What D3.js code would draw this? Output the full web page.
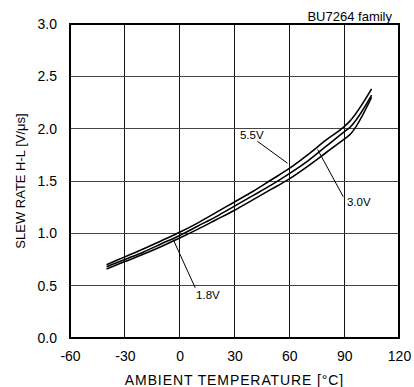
<!DOCTYPE html>
<html>
<head>
<meta charset="utf-8">
<script src="https://cdn.jsdelivr.net/npm/d3@7"></script>
<style>
  html, body { margin: 0; padding: 0; background: #fff; }
  svg { display: block; font-family: "Liberation Sans", Arial, sans-serif; }
</style>
</head>
<body>
<svg id="chart" width="414" height="387"></svg>
<script>
// Ambient temperature sample points [°C]
const temps = [-40, -30, -20, -10, 0, 10, 20, 30, 40, 50, 60, 70, 80, 90, 93, 105];
// Slew rate H-L [V/µs] per supply voltage
const slew55 = [0.70, 0.775, 0.85, 0.93, 1.01, 1.10, 1.20, 1.30, 1.40, 1.51, 1.62, 1.75, 1.89, 2.02, 2.07, 2.38];
const slew30 = [0.68, 0.75, 0.82, 0.90, 0.98, 1.07, 1.16, 1.26, 1.36, 1.46, 1.57, 1.69, 1.83, 1.97, 2.01, 2.32];
const slew18 = [0.66, 0.73, 0.80, 0.875, 0.955, 1.04, 1.13, 1.22, 1.32, 1.42, 1.52, 1.64, 1.77, 1.90, 1.94, 2.30];
const seriesNames = ["5.5V", "3.0V", "1.8V"];
const xTicks = [-60, -30, 0, 30, 60, 90, 120];
const yTicks = ["0.0", "0.5", "1.0", "1.5", "2.0", "2.5", "3.0"];
// Callouts: label anchor and leader line ends, in data units
const callouts = [
  { name: "5.5V", tx: 33, ty: 1.94, x1: 42.5, y1: 1.88, x2: 59, y2: 1.67 },
  { name: "3.0V", tx: 91.5, ty: 1.30, x1: 75.5, y1: 1.80, x2: 89.5, y2: 1.35 },
  { name: "1.8V", tx: 9, ty: 0.41, x1: -3.5, y1: 0.94, x2: 8.5, y2: 0.48 }
];

const svg = d3.select("#chart");
const W = 414, H = 387;
const m = { left: 70, top: 24, right: 15, bottom: 49 };
const pw = W - m.left - m.right, ph = H - m.top - m.bottom;
const FONT = "Liberation Sans, Arial, sans-serif";

const x = d3.scaleLinear().domain([-60, 120]).range([m.left, m.left + pw]);
const y = d3.scaleLinear().domain([0, 3]).range([m.top + ph, m.top]);
const yVals = yTicks.map(Number);

// grid
const g = svg.append("g");
g.selectAll("line.vg").data(xTicks.slice(1, -1)).join("line")
  .attr("x1", d => x(d)).attr("x2", d => x(d))
  .attr("y1", y(0)).attr("y2", y(3))
  .attr("stroke", "#111").attr("stroke-width", 1).attr("shape-rendering", "crispEdges");
g.selectAll("line.hg").data(yVals.slice(1, -1)).join("line")
  .attr("x1", x(-60)).attr("x2", x(120))
  .attr("y1", d => y(d)).attr("y2", d => y(d))
  .attr("stroke", "#444").attr("stroke-width", 1).attr("shape-rendering", "crispEdges");

// frame
svg.append("rect")
  .attr("x", x(-60)).attr("y", y(3))
  .attr("width", x(120) - x(-60)).attr("height", y(0) - y(3))
  .attr("fill", "none").attr("stroke", "#000").attr("stroke-width", 2);

// axes tick labels
const xAxis = d3.axisBottom(x).tickValues(xTicks).tickSize(0).tickPadding(13).tickFormat(d => String(d));
svg.append("g").attr("transform", `translate(0,${y(0)})`).call(xAxis)
  .call(s => s.select(".domain").remove())
  .selectAll("text").attr("font-size", 14).attr("fill", "#000").attr("font-family", FONT);

const yAxis = d3.axisLeft(y).tickValues(yVals).tickSize(0).tickPadding(13).tickFormat((d, i) => yTicks[i]);
svg.append("g").attr("transform", `translate(${x(-60)},0)`).call(yAxis)
  .call(s => s.select(".domain").remove())
  .selectAll("text").attr("font-size", 14).attr("fill", "#000").attr("font-family", FONT);

// curves
const line = d3.line().x(d => x(d[0])).y(d => y(d[1])).curve(d3.curveMonotoneX);
[slew55, slew30, slew18].forEach(vals => {
  svg.append("path")
    .datum(temps.map((t, i) => [t, vals[i]]))
    .attr("d", line)
    .attr("fill", "none").attr("stroke", "#000").attr("stroke-width", 1.6);
});

// callouts
callouts.forEach(c => {
  svg.append("line")
    .attr("x1", x(c.x1)).attr("y1", y(c.y1)).attr("x2", x(c.x2)).attr("y2", y(c.y2))
    .attr("stroke", "#000").attr("stroke-width", 1);
  svg.append("text")
    .attr("x", x(c.tx)).attr("y", y(c.ty))
    .attr("dy", "0.35em")
    .attr("font-size", 11.5).attr("fill", "#000")
    .text(c.name);
});

// family label
svg.append("text")
  .attr("x", x(120) - 7).attr("y", y(3) - 3)
  .attr("text-anchor", "end").attr("font-size", 13).attr("fill", "#000")
  .text("BU7264 family");

// axis titles
svg.append("text")
  .attr("x", (x(-60) + x(120)) / 2).attr("y", 385)
  .attr("text-anchor", "middle").attr("font-size", 14).attr("letter-spacing", 0.9).attr("fill", "#000")
  .text("AMBIENT TEMPERATURE [°C]");

svg.append("text")
  .attr("transform", `translate(25,${(y(0) + y(3)) / 2}) rotate(-90)`)
  .attr("text-anchor", "middle").attr("font-size", 13).attr("fill", "#000")
  .text("SLEW RATE H-L [V/μs]");
</script>
</body>
</html>
